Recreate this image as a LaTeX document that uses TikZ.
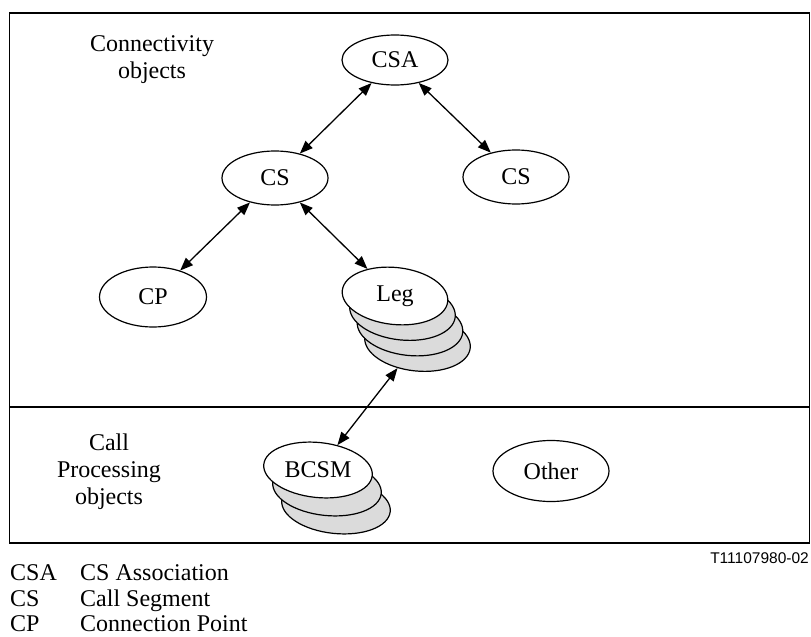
\documentclass[tikz,border=0pt]{standalone}
\usepackage{fontspec}
\setmainfont{Liberation Serif}
\newfontfamily\tagfont{Liberation Sans}
\usetikzlibrary{shapes.geometric,arrows.meta}

\begin{document}
\begin{tikzpicture}[x=1pt,y=-1pt,
    obj/.style={ellipse, draw, line width=1.2pt, fill=white, minimum width=106pt, minimum height=54pt, inner sep=0pt, font=\fontsize{24}{28}\selectfont},
    stackobj/.style={obj, rotate=-6},
    backobj/.style={stackobj, fill=black!14},
    link/.style={{Triangle[length=13pt,width=10pt]}-{Triangle[length=13pt,width=10pt]}, line width=1.3pt},
    txt/.style={font=\fontsize{24}{27}\selectfont, align=center, inner sep=0pt},
    keytxt/.style={txt, anchor=base west}]
    \useasboundingbox (0,0) rectangle (811,637);
    % frame and divider
    \draw[line width=1.3pt] (9.5,13) rectangle (809.5,543);
    \draw[line width=2.5pt] (9.5,407) -- (809.5,407);
    % section titles
    \node[txt] (conntitle) at (152,60) {Connectivity\\objects};
    \node[txt] (proctitle) at (109,472) {Call\\Processing\\objects};
    % connectivity objects
    \node[obj, minimum height=50pt] (csa) at (395,60) {CSA};
    \node[obj] (csl) at (275,178) {CS};
    \node[obj] (csr) at (516,177) {CS};
    \node[obj, minimum width=107pt, minimum height=60pt] (cp) at (153,297) {CP};
    \node[backobj, minimum height=57pt] (leg3) at (417.5,342.5) {};
    \node[backobj, minimum height=57pt] (leg2) at (410,327) {};
    \node[backobj, minimum height=57pt] (leg1) at (402.5,311.5) {};
    \node[stackobj, minimum height=57pt] (leg) at (395,296) {\rotatebox{6}{Leg}};
    % call processing objects
    \node[backobj, minimum width=109pt, minimum height=55pt] (bcsm2) at (336,506) {};
    \node[backobj, minimum width=109pt, minimum height=55pt] (bcsm1) at (327,488) {};
    \node[stackobj, minimum width=109pt, minimum height=55pt] (bcsm) at (318,470) {\rotatebox{6}{BCSM}};
    \node[obj, minimum width=116pt, minimum height=61pt] (other) at (551,471) {Other};
    % relations
    \draw[link] (csa) -- (csl);
    \draw[link] (csa) -- (csr);
    \draw[link] (csl) -- (cp);
    \draw[link] (csl) -- (leg);
    \draw[link] (leg3) -- (bcsm);
    % figure tag and legend
    \node[anchor=east, inner sep=0pt, font=\tagfont\fontsize{15.5}{18}\selectfont] (tag) at (809,558) {T11107980-02};
    \node[keytxt] (abcsa) at (10,580) {CSA};
    \node[keytxt] (decsa) at (80,580) {CS Association};
    \node[keytxt] (abcs) at (10,606) {CS};
    \node[keytxt] (decs) at (80,606) {Call Segment};
    \node[keytxt] (abcp) at (10,631) {CP};
    \node[keytxt] (decp) at (80,631) {Connection Point};
\end{tikzpicture}
\end{document}
